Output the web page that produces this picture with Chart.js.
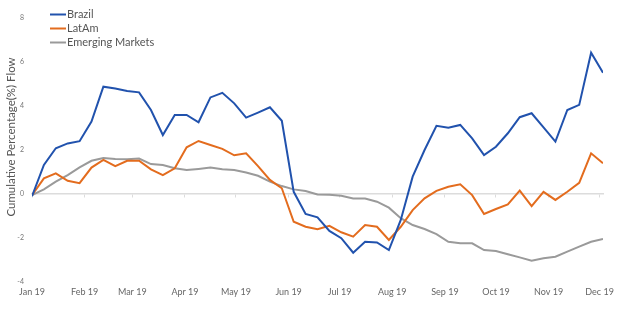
<!DOCTYPE html>
<html>
<head>
<meta charset="utf-8">
<script src="https://cdn.jsdelivr.net/npm/chart.js@4"></script>
<style>
  html, body { margin: 0; padding: 0; background: #fff; }
  #wrap { width: 620px; height: 324px; position: relative; }
</style>
</head>
<body>
<div id="wrap"><canvas id="c" width="620" height="324"></canvas></div>
<script>
// Weekly observations, expressed as days since 1 Jan 2019
const weekDays = [0,7,14,21,28,35,42,49,56,63,70,77,84,91,98,105,112,119,126,133,140,147,154,161,168,175,182,189,196,203,210,217,224,231,238,245,252,259,266,273,280,287,294,301,308,315,322,329,336];

// Cumulative flows, % of assets
const brazil = [-0.1,1.32,2.08,2.3,2.4,3.29,4.88,4.8,4.68,4.62,3.82,2.68,3.59,3.59,3.26,4.39,4.6,4.12,3.47,3.7,3.94,3.33,0.1,-0.91,-1.06,-1.68,-2.01,-2.67,-2.17,-2.2,-2.55,-1.18,0.79,2.0,3.1,3.01,3.14,2.53,1.77,2.15,2.76,3.49,3.67,3.03,2.38,3.82,4.05,6.42,5.51];
const latam = [-0.05,0.71,0.94,0.6,0.49,1.2,1.55,1.27,1.51,1.51,1.12,0.86,1.17,2.12,2.41,2.23,2.05,1.76,1.85,1.27,0.64,0.26,-1.26,-1.49,-1.6,-1.45,-1.74,-1.94,-1.41,-1.49,-2.09,-1.49,-0.73,-0.2,0.14,0.33,0.44,-0.05,-0.91,-0.68,-0.47,0.15,-0.55,0.1,-0.27,0.1,0.51,1.85,1.4];
const emerging = [-0.05,0.21,0.56,0.86,1.21,1.51,1.64,1.59,1.58,1.61,1.36,1.32,1.17,1.09,1.14,1.2,1.12,1.09,0.98,0.83,0.56,0.36,0.21,0.14,-0.02,-0.03,-0.08,-0.2,-0.21,-0.35,-0.62,-1.1,-1.41,-1.59,-1.82,-2.17,-2.24,-2.24,-2.55,-2.59,-2.74,-2.88,-3.03,-2.92,-2.85,-2.62,-2.39,-2.17,-2.05];

// Month starts (day of year) and their labels
const monthDays = [0,31,59,90,120,151,181,212,243,273,304,334];
const monthLabels = ['Jan 19','Feb 19','Mar 19','Apr 19','May 19','Jun 19','Jul 19','Aug 19','Sep 19','Oct 19','Nov 19','Dec 19'];

const seriesNames = ['Brazil','LatAm','Emerging Markets'];
const seriesColors = ['#2152ad','#e36c1e','#9a9a9a'];
const seriesValues = [brazil, latam, emerging];
const yTitle = 'Cumulative Percentage(%) Flow';

const FONT = 'Lato, "Open Sans", sans-serif';
const toPoints = vals => vals.map((v, i) => ({ x: weekDays[i], y: v }));

// Stacked line legend in the top-left corner, plus the rotated value-axis title
const annotations = {
  id: 'annotations',
  afterDraw(chart) {
    const ctx = chart.ctx;
    ctx.save();
    ctx.font = '11px ' + FONT;
    ctx.textBaseline = 'middle';
    chart.data.datasets.forEach((ds, i) => {
      const y = 14.5 + i * 14;
      ctx.strokeStyle = ds.borderColor;
      ctx.lineWidth = 2;
      ctx.beginPath();
      ctx.moveTo(50, y);
      ctx.lineTo(66, y);
      ctx.stroke();
      ctx.fillStyle = '#555';
      ctx.fillText(ds.label, 67, y);
    });

    ctx.translate(11, 137);
    ctx.rotate(-Math.PI / 2);
    ctx.textAlign = 'center';
    ctx.font = '11.5px ' + FONT;
    ctx.fillStyle = '#555';
    ctx.fillText(yTitle, 0, 0);
    ctx.restore();
  }
};

new Chart(document.getElementById('c'), {
  type: 'line',
  data: {
    datasets: seriesNames.map((name, i) => ({
      label: name,
      data: toPoints(seriesValues[i]),
      borderColor: seriesColors[i],
      backgroundColor: seriesColors[i],
      borderWidth: 2,
      pointRadius: 0,
      tension: 0,
      fill: false
    }))
  },
  options: {
    responsive: false,
    animation: false,
    layout: { padding: { top: 18, right: 17, left: 0, bottom: 0 } },
    plugins: { legend: { display: false }, tooltip: { enabled: false } },
    scales: {
      x: {
        type: 'linear',
        min: 0,
        max: 336,
        afterBuildTicks(scale) { scale.ticks = monthDays.map(v => ({ value: v })); },
        afterFit(scale) { scale.height = 42; },
        grid: { display: false, drawTicks: false },
        border: { display: false },
        ticks: {
          autoSkip: false,
          maxRotation: 0,
          padding: 5,
          color: '#666',
          font: { size: 9, family: FONT },
          callback(v) { const k = monthDays.indexOf(v); return k >= 0 ? monthLabels[k] : ''; }
        }
      },
      zeroAxis: {
        type: 'linear',
        axis: 'x',
        position: { y: 0 },
        min: 0,
        max: 336,
        afterBuildTicks(scale) { scale.ticks = monthDays.map(v => ({ value: v })); },
        grid: { drawOnChartArea: false, drawTicks: true, tickLength: 3, color: '#dcdcdc', lineWidth: 1 },
        border: { display: true, color: '#dcdcdc', width: 1.5 },
        ticks: { display: false }
      },
      y: {
        min: -4,
        max: 8,
        afterFit(scale) { scale.width = 32; },
        grid: { display: false, drawTicks: false },
        border: { display: false },
        ticks: {
          stepSize: 2,
          padding: 8,
          color: '#777',
          font: { size: 7, family: FONT }
        }
      }
    }
  },
  plugins: [annotations]
});
</script>
</body>
</html>
